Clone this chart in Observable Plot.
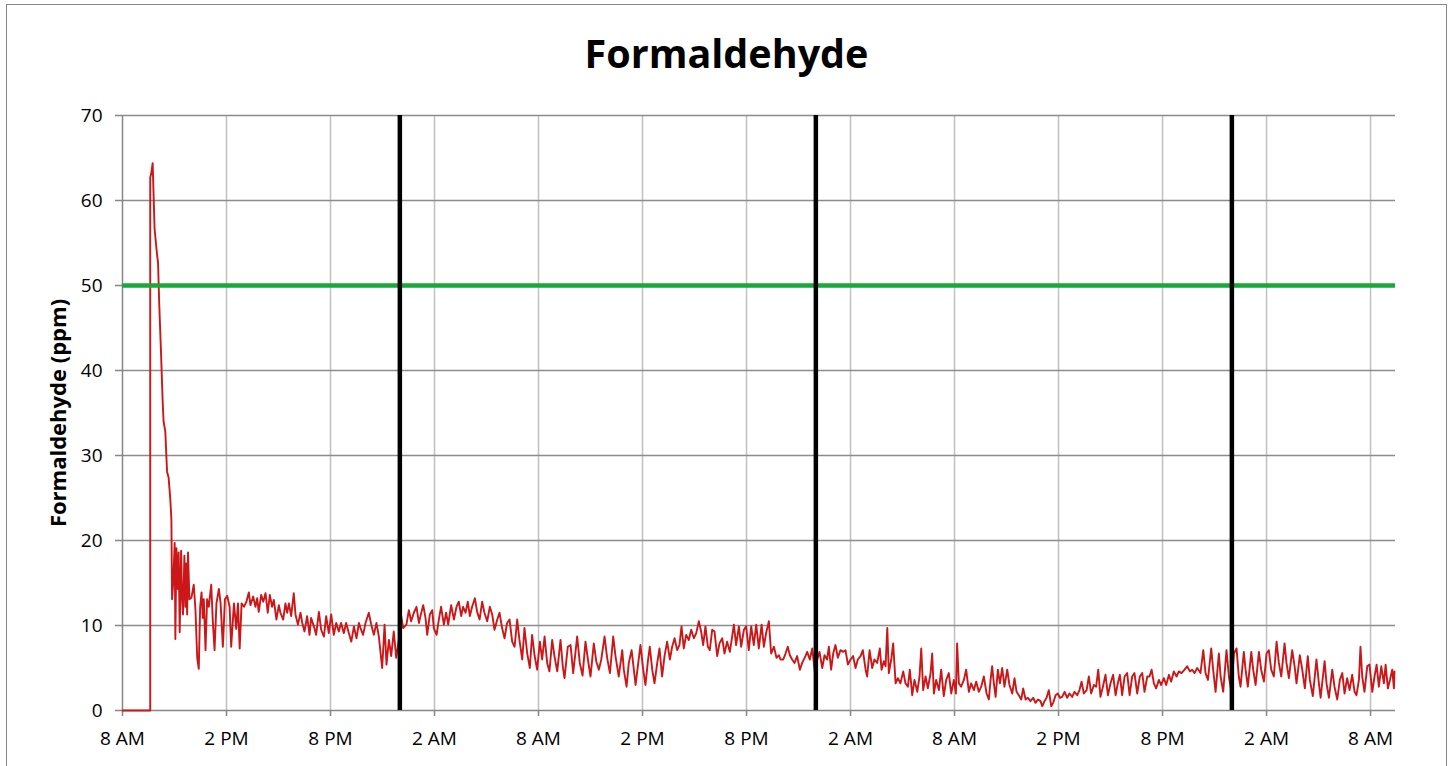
<!DOCTYPE html>
<html>
<head>
<meta charset="utf-8">
<script src="https://cdn.jsdelivr.net/npm/d3@7"></script>
<script src="https://cdn.jsdelivr.net/npm/@observablehq/plot@0.6"></script>
<style>
  html, body { margin: 0; padding: 0; background: #fff; }
  #wrap { position: relative; width: 1453px; height: 766px; overflow: hidden; font-family: "Open Sans", sans-serif; }
  #frame { position: absolute; left: 6px; top: 4px; width: 1441px; height: 800px; border: 1.5px solid #888; box-sizing: border-box; }
  #title { position: absolute; left: 0; width: 1453px; top: 28px; text-align: center; font-weight: bold; font-size: 39.5px; line-height: 50px; color: #000; }
  #ylabel { position: absolute; left: 57px; top: 413px; transform: translate(-50%, -50%) rotate(-90deg); white-space: nowrap; font-weight: bold; font-size: 22px; color: #000; }
  #chart { position: absolute; left: 0; top: 0; }
</style>
</head>
<body>
<div id="wrap">
  <div id="frame"></div>
  <div id="chart"></div>
  <div id="title">Formaldehyde</div>
  <div id="ylabel">Formaldehyde (ppm)</div>
</div>
<script>
// Hours elapsed since 8 AM on the first day
const hours = [
  0, 1.6, 1.6, 1.66, 1.74, 1.85, 1.99, 2.05, 2.12, 2.22, 2.32, 2.37, 2.47, 2.57, 2.66, 2.76, 2.82, 2.86, 2.93, 3.01,
  3.05, 3.11, 3.19, 3.24, 3.30, 3.38, 3.44, 3.49, 3.57, 3.63, 3.67, 3.73, 3.78, 3.86, 3.98, 4.11, 4.21, 4.31, 4.40, 4.48,
  4.56, 4.63, 4.69, 4.79, 4.88, 4.98, 5.12, 5.21, 5.31, 5.42, 5.56, 5.66, 5.79, 5.91, 6.04, 6.18, 6.27, 6.43, 6.56, 6.66,
  6.76, 6.87, 7.01,
  7.15, 7.29, 7.38, 7.54, 7.67, 7.77, 7.86, 8.0, 8.12, 8.25, 8.38, 8.5, 8.63, 8.73, 8.88, 9.02, 9.11, 9.27, 9.40, 9.5,
  9.6, 9.73, 9.88, 9.98, 10.12, 10.27, 10.37, 10.5, 10.65, 10.79, 10.88, 11.04, 11.17, 11.33, 11.46, 11.62, 11.75, 11.9, 12.04, 12.19,
  12.33, 12.48, 12.61, 12.77, 12.9, 13.06, 13.2, 13.35, 13.5, 13.64,
  13.73, 13.88, 14.02, 14.21, 14.35, 14.5, 14.65, 14.79, 14.98, 15.12, 15.23, 15.37, 15.5, 15.65, 15.79, 15.94, 16.08, 16.19, 16.38, 16.52,
  16.65, 16.81, 16.96, 17.1, 17.19, 17.35, 17.48, 17.58, 17.73, 17.87, 17.96, 18.12, 18.25, 18.38, 18.54, 18.67, 18.79, 18.96, 19.12, 19.27,
  19.4, 19.54, 19.65, 19.79, 19.92, 20.04, 20.17, 20.33, 20.46, 20.6, 20.75, 20.88, 21.04, 21.19, 21.33, 21.46, 21.62, 21.75, 21.9, 22.04,
  22.19, 22.33, 22.48, 22.62, 22.77, 22.9, 23.06, 23.19, 23.35, 23.5, 23.63, 23.77, 23.92, 24.08, 24.21, 24.35, 24.5, 24.63, 24.79, 24.92,
  25.08, 25.27, 25.4, 25.5, 25.69, 25.85,
  26.0, 26.23, 26.38, 26.54, 26.71, 26.85, 27.0, 27.19, 27.33, 27.48, 27.62, 27.81, 27.96, 28.12, 28.31, 28.44, 28.63, 28.83, 28.92, 29.08,
  29.21, 29.37, 29.5, 29.6, 29.73, 29.88, 30.04, 30.17, 30.31, 30.42, 30.56, 30.69, 30.85, 30.98, 31.13, 31.27, 31.42, 31.58, 31.71, 31.85,
  32.0, 32.13, 32.25, 32.38, 32.52, 32.67, 32.81, 32.96, 33.1, 33.25, 33.38, 33.5, 33.63, 33.77, 33.88, 34.02, 34.15, 34.31, 34.44, 34.6,
  34.73, 34.88, 35.04, 35.17, 35.27, 35.4, 35.56, 35.69, 35.85, 35.98, 36.13, 36.27, 36.42, 36.56, 36.71, 36.87, 37.0, 37.13, 37.29, 37.42,
  37.58, 37.73, 37.87, 37.96,
  38.12, 38.25, 38.38, 38.5, 38.63, 38.77, 38.92, 39.08, 39.21, 39.4, 39.5, 39.65, 39.79, 39.94, 40.08, 40.21, 40.37, 40.5, 40.65, 40.75,
  40.88, 41.0, 41.13, 41.27, 41.42, 41.58, 41.71, 41.85, 42.0, 42.15, 42.29, 42.42, 42.58, 42.71, 42.87, 42.96, 43.1, 43.25, 43.38, 43.54,
  43.69, 43.79, 43.92, 44.02, 44.12, 44.21, 44.35, 44.46, 44.6, 44.73, 44.88, 45.04, 45.17, 45.31, 45.42, 45.56, 45.69, 45.85, 45.98, 46.08,
  46.19, 46.33, 46.46, 46.62, 46.71, 46.81, 46.94, 47.1, 47.23, 47.38, 47.52, 47.67, 47.81, 47.96, 48.08, 48.15, 48.25, 48.38, 48.54, 48.67,
  48.83, 48.96, 49.12, 49.25, 49.4, 49.54, 49.69, 49.85, 49.98, 50.08,
  50.17, 50.27, 50.37, 50.5, 50.62, 50.75, 50.88, 51.04, 51.17, 51.33, 51.46, 51.58, 51.71, 51.85, 51.96, 52.1, 52.23, 52.38, 52.54, 52.67,
  52.81, 52.96, 53.06, 53.19, 53.31, 53.44, 53.58, 53.69, 53.83, 53.96, 54.08, 54.21, 54.35, 54.5, 54.63, 54.79, 54.92, 55.08, 55.21, 55.33,
  55.46, 55.62, 55.75, 55.88, 56.04, 56.17, 56.29, 56.42, 56.56, 56.71, 56.85, 57.0, 57.15, 57.29, 57.42, 57.54, 57.67, 57.81, 57.96, 58.1,
  58.25, 58.38, 58.54, 58.69, 58.83, 58.96, 59.12, 59.25, 59.37, 59.5, 59.63, 59.79, 59.92, 60.08, 60.21, 60.37, 60.5, 60.65, 60.81, 60.94,
  61.1, 61.27, 61.42, 61.58, 61.71, 61.85, 62.0, 62.19,
  62.35, 62.48, 62.62, 62.81, 62.92, 63.06, 63.25, 63.35, 63.5, 63.69, 63.83, 63.96, 64.12, 64.27, 64.4, 64.5, 64.69, 64.79, 64.92, 65.12,
  65.23, 65.37, 65.56, 65.69, 65.85, 66.0, 66.13, 66.27, 66.42, 66.58, 66.71, 66.85, 67.04, 67.15, 67.29, 67.48, 67.62, 67.73, 67.92, 68.06,
  68.21, 68.38, 68.5, 68.67, 68.88, 69.02, 69.12, 69.35, 69.46, 69.6, 69.79, 69.92, 70.08, 70.23, 70.37, 70.5, 70.65, 70.79, 70.94, 71.08,
  71.19, 71.33, 71.42, 71.52, 71.65, 71.81, 71.94, 72.1, 72.23, 72.35, 72.48, 72.62, 72.77, 72.87, 73.0, 73.12, 73.25, 73.35, 73.38
];

// Formaldehyde concentration (ppm)
const ppm = [
  0, 0, 62.7, 63.2, 64.4, 56.7, 53.7, 52.7, 47.8, 42.2, 36.2, 34.0, 32.8, 28.1, 27.4, 24.8, 22.5, 13.1, 15.2, 19.7,
  8.4, 19.1, 14.3, 18.6, 9.2, 18.8, 13.1, 11.3, 18.2, 12.2, 17.3, 11.3, 18.6, 13.1, 13.3, 14.8, 11.8, 6.2, 4.9, 12.2,
  13.9, 10.9, 13.1, 7.1, 13.1, 12.2, 14.8, 10.5, 7.1, 12.6, 14.3, 12.6, 7.5, 13.1, 13.5, 12.2, 7.5, 12.6, 9.6, 12.6,
  7.3, 12.6, 12.2,
  12.8, 13.9, 12.4, 13.4, 12.2, 13.2, 11.6, 13.6, 12.8, 13.8, 11.5, 13.6, 12.2, 13.0, 10.7, 12.4, 11.5, 10.7, 12.6, 11.5,
  12.6, 11.1, 13.8, 11.3, 10.1, 11.5, 10.3, 9.3, 11.1, 8.9, 10.9, 9.9, 8.9, 11.6, 9.5, 8.7, 11.1, 9.1, 11.3, 8.9,
  10.3, 9.3, 10.3, 9.1, 10.3, 9.1, 8.1, 9.9, 8.5, 10.3,
  9.7, 8.9, 10.3, 11.5, 10.1, 8.9, 10.3, 8.7, 5.0, 10.1, 5.4, 8.3, 6.4, 9.3, 6.2, 8.3, 11.1, 9.7, 10.1, 11.8,
  10.5, 11.5, 12.2, 10.3, 11.1, 12.4, 10.9, 8.9, 11.3, 11.8, 9.7, 8.9, 10.7, 12.2, 10.1, 11.5, 10.1, 12.4, 10.7, 12.2,
  12.8, 11.1, 12.2, 11.5, 12.8, 11.1, 12.2, 13.2, 11.6, 10.7, 12.8, 11.5, 10.5, 12.2, 11.3, 9.5, 10.7, 11.5, 9.7, 8.5,
  10.3, 10.7, 8.1, 7.5, 10.7, 8.3, 6.0, 9.7, 6.7, 5.0, 8.9, 6.5, 4.8, 8.1, 6.0, 8.7, 5.6, 4.6, 8.3, 6.4,
  4.6, 8.3, 5.2, 3.8, 7.5, 7.7,
  4.4, 8.7, 5.6, 4.1, 8.1, 6.0, 4.0, 7.9, 5.8, 4.8, 6.0, 8.7, 6.2, 4.4, 8.7, 6.4, 4.0, 7.1, 4.8, 2.8,
  5.6, 7.1, 4.8, 3.0, 5.2, 7.7, 4.8, 3.0, 5.8, 7.5, 4.8, 3.2, 5.6, 7.3, 4.0, 6.4, 8.1, 6.0, 7.5, 8.5,
  7.1, 7.7, 9.9, 7.3, 8.9, 8.3, 9.5, 8.5, 9.1, 10.5, 9.3, 7.7, 9.9, 7.5, 7.1, 9.5, 9.3, 6.4, 7.9, 8.5,
  6.7, 8.1, 6.9, 8.7, 10.1, 7.7, 9.9, 7.5, 9.5, 9.9, 7.1, 9.9, 7.7, 10.1, 7.3, 10.1, 7.5, 9.1, 10.5, 6.7,
  7.5, 6.2, 6.5, 6.0,
  6.0, 6.7, 7.5, 6.5, 6.0, 5.6, 6.4, 4.8, 5.6, 6.4, 6.9, 6.0, 7.3, 4.6, 6.0, 6.9, 5.0, 6.5, 6.0, 7.5,
  4.8, 6.7, 7.7, 6.2, 7.1, 6.9, 7.1, 5.4, 6.0, 6.4, 5.0, 6.0, 6.4, 7.1, 4.8, 4.0, 7.1, 5.0, 6.0, 5.6,
  7.3, 4.8, 5.8, 5.2, 9.7, 4.4, 6.0, 7.9, 3.2, 3.8, 3.2, 4.6, 3.2, 2.8, 4.8, 1.8, 3.6, 2.2, 4.0, 7.3,
  2.4, 4.0, 2.6, 4.4, 6.7, 2.0, 3.6, 2.4, 4.8, 1.7, 3.6, 4.4, 2.0, 3.6, 2.0, 7.9, 3.2, 2.8, 3.6, 4.8,
  2.2, 3.2, 2.4, 3.4, 2.2, 2.8, 4.0, 2.0, 1.3, 3.6,
  5.2, 3.2, 1.6, 4.8, 3.2, 5.0, 2.8, 4.8, 3.0, 2.0, 3.8, 2.2, 1.8, 1.3, 2.6, 1.3, 1.5, 1.1, 1.5, 0.9,
  1.3, 1.1, 0.5, 1.1, 1.5, 2.4, 0.5, 0.9, 1.8, 2.0, 1.5, 1.6, 2.2, 1.5, 2.0, 1.6, 2.2, 1.8, 2.4, 3.4,
  2.0, 2.4, 4.0, 2.0, 3.0, 2.8, 4.8, 1.6, 2.8, 4.2, 1.8, 3.2, 4.2, 1.8, 3.2, 4.2, 1.8, 4.0, 4.4, 1.8,
  4.0, 4.4, 2.0, 4.0, 4.4, 2.2, 4.0, 4.0, 4.8, 3.2, 2.6, 3.6, 3.0, 3.8, 3.0, 4.2, 3.4, 4.6, 4.0, 4.6,
  4.4, 4.8, 5.2, 4.6, 4.8, 4.4, 5.0, 4.4,
  7.1, 4.4, 3.6, 7.3, 4.8, 2.2, 6.7, 4.0, 2.2, 7.1, 4.0, 2.4, 6.7, 7.3, 4.0, 2.8, 6.9, 4.8, 2.8, 6.9,
  4.8, 3.0, 6.9, 4.8, 3.4, 6.7, 7.1, 4.8, 4.0, 8.1, 5.6, 4.0, 7.9, 5.6, 3.8, 7.1, 5.2, 3.2, 6.5, 4.8,
  2.6, 6.4, 3.6, 1.7, 6.0, 3.2, 1.5, 5.8, 3.2, 1.5, 4.8, 2.8, 1.3, 3.6, 4.4, 2.0, 3.8, 2.4, 4.2, 2.2,
  1.8, 3.6, 7.5, 4.0, 2.2, 5.2, 5.4, 2.2, 4.0, 5.4, 2.8, 5.2, 3.2, 5.4, 2.6, 3.6, 4.8, 2.6, 4.6
];

// Axis ticks (hours since 8 AM) and reference markers
const xTickHours = [0, 6, 12, 18, 24, 30, 36, 42, 48, 54, 60, 66, 72];
const yTicks = [0, 10, 20, 30, 40, 50, 60, 70];
const midnightHours = [16, 40, 64];
const limitPpm = [50];
const domainHours = [0, 73.44];

const base = Date.UTC(2013, 0, 1, 8, 0, 0);
const toDate = h => new Date(base + h * 3600 * 1000);
const data = hours.map((h, i) => ({time: toDate(h), value: ppm[i]}));
const xTicks = xTickHours.map(toDate);
const fmt = d3.utcFormat("%-I %p");

const chart = Plot.plot({
  width: 1453,
  height: 766,
  marginLeft: 122,
  marginRight: 58,
  marginTop: 115,
  marginBottom: 56,
  style: {fontFamily: "'Open Sans', sans-serif", fontSize: "19px", color: "#000", background: "transparent", overflow: "visible"},
  x: {type: "utc", domain: domainHours.map(toDate)},
  y: {domain: [0, 70]},
  marks: [
    Plot.gridX(xTicks.slice(1), {stroke: "#c0c0c0", strokeOpacity: 1, strokeWidth: 1.5}),
    Plot.gridY(yTicks.slice(1), {stroke: "#8c8c8c", strokeOpacity: 1, strokeWidth: 1.3}),
    Plot.axisX(xTicks, {tickFormat: fmt, tickSize: 6, tickPadding: 15, stroke: "#868686", strokeWidth: 1.5, fill: "#000", fontSize: 19, label: null}),
    Plot.axisY(yTicks, {tickSize: 7, tickPadding: 13, stroke: "#868686", strokeWidth: 1.5, fill: "#000", fontSize: 19, label: null}),
    Plot.ruleY([0], {stroke: "#868686", strokeWidth: 1.5}),
    Plot.ruleX([toDate(0)], {stroke: "#868686", strokeWidth: 1.5}),
    Plot.line(data, {x: "time", y: "value", stroke: "#cc1719", strokeWidth: 1.9}),
    Plot.ruleY(limitPpm, {stroke: "#19a83a", strokeWidth: 4.5}),
    Plot.ruleX(midnightHours.map(toDate), {stroke: "#000", strokeWidth: 4.5})
  ]
});
document.getElementById("chart").appendChild(chart);
</script>
</body>
</html>
